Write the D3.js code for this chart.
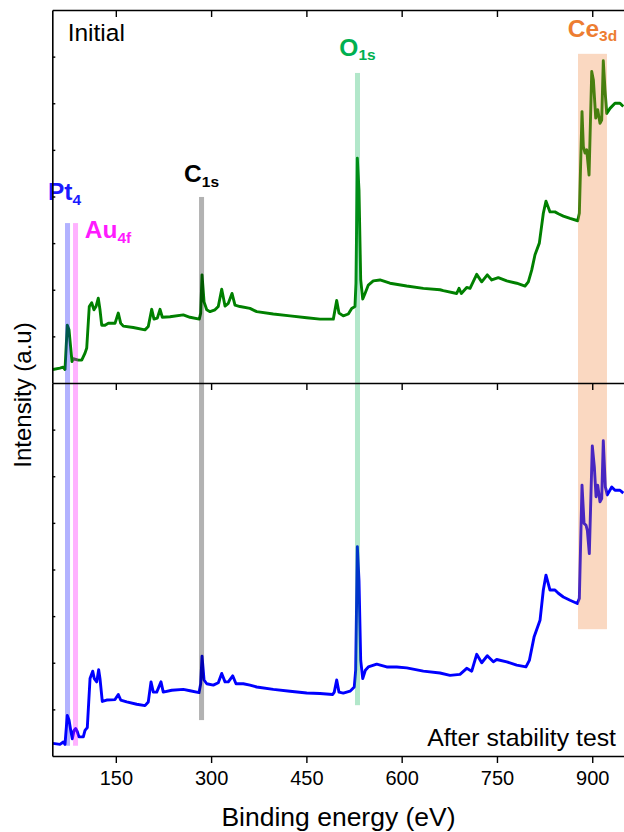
<!DOCTYPE html>
<html>
<head>
<meta charset="utf-8">
<script src="https://cdn.jsdelivr.net/npm/d3@7"></script>
<style>
  html, body { margin: 0; padding: 0; background: #fff; }
  svg { display: block; font-family: "Liberation Sans", Arial, sans-serif; }
</style>
</head>
<body>
<svg id="chart" width="624" height="832"></svg>
<script>
// XPS survey spectra: [binding energy (eV), intensity (a.u.)]
const energyTicks = [150, 300, 450, 600, 750, 900];
const intensityTicks = [10, 20, 30, 40, 50, 60, 70];

const initialSpectrum = [
  [51,2.9],[62,3.2],[67,3.4],[70,2.9],[73.6,12.4],[76.3,11.4],[81,4.6],[83.1,5.2],[90.9,4.9],[96.3,4.9],
  [101.5,6.4],[104.2,7.5],[108.2,16.4],[112,17.2],[115.6,15.7],[118.8,16.4],[122.4,18.2],[125.1,15.7],
  [127.8,12.4],[133,12.4],[138.2,12.8],[148.7,12.8],[153.9,15.0],[157.7,12.8],[161.8,12.2],[177.5,11.9],
  [195.9,11.4],[201.1,12.1],[206.5,15.8],[210.1,13.7],[215.3,13.9],[219.6,15.8],[223.2,14.1],[235.3,14.2],
  [256.2,14.6],[266.8,14.1],[281.4,13.7],[283.6,15.0],[285.7,23.2],[288.9,17.4],[293.1,15.7],[298.3,15.3],
  [306.1,15.7],[311.3,16.4],[316.7,20.1],[321.9,16.5],[327.1,17.1],[332.9,19.2],[337.6,16.7],[345.5,16.4],
  [361.2,16.0],[371.8,15.3],[397.9,14.8],[424.2,14.4],[450.5,14.0],[471.4,13.7],[492.4,13.7],[497.7,17.7],
  [501.3,15.0],[508.1,14.4],[516,14.8],[521.3,16.0],[526.5,16.4],[528.1,21.4],[530.2,48.2],[532.8,41.4],
  [535.5,22.1],[538.7,18.0],[542.3,19.2],[547.5,21.0],[555.3,21.9],[565.9,22.1],[581.6,21.4],[607.9,20.8],
  [634.1,20.3],[660.3,20.0],[665.5,19.8],[686.6,19.2],[690.3,20.3],[693.9,19.2],[702.4,20.5],[707.6,20.3],
  [718.1,23.3],[726,21.7],[734.8,23.2],[741.8,22.1],[752.1,22.6],[765.4,21.9],[781.1,21.4],[794.2,20.8],
  [799.4,21.7],[804.7,24.2],[809.9,27.5],[816.7,30.0],[823,36.4],[827.2,39.0],[833.5,36.7],[841.3,36.7],
  [846.6,36.3],[854.5,35.8],[865,35.3],[877.1,34.8],[879.7,36.4],[883.9,58.2],[886,50.7],[888.7,49.3],
  [891.3,50.0],[895,44.6],[899.2,66.8],[901.8,65.0],[905.5,56.8],[908.6,58.6],[912.2,55.7],[914.9,56.4],
  [917.4,69.1],[920.1,62.8],[922.8,57.8],[928,58.9],[935.8,60.0],[943.7,60.0],[948.9,59.3]
];

const afterSpectrum = [
  [51,2.7],[62.1,2.5],[67.3,3.0],[70,2.5],[73.6,8.7],[76.3,7.7],[79,5.5],[81.5,3.7],[84.2,5.5],[86.8,5.9],
  [89.4,5.2],[92,4.1],[98.8,4.1],[101.5,5.5],[105.1,6.1],[109.4,16.6],[113.6,18.2],[116.1,16.6],[119.9,15.9],
  [123,18.5],[125.1,16.6],[128.7,11.7],[135.6,12.0],[148.7,12.1],[153.9,13.2],[157.7,12.0],[167.1,11.6],
  [182.9,11.1],[195.9,10.8],[201.1,11.6],[205.4,15.9],[209,13.7],[214.4,13.7],[221.1,15.9],[224.7,13.7],
  [238,14.1],[256.2,14.3],[266.8,14.0],[281,13.6],[283.6,15.5],[285.7,21.4],[288.9,16.3],[293.1,15.5],
  [303.5,15.2],[311.3,15.7],[316.7,17.7],[321.9,15.9],[327.1,15.9],[334,17.2],[339.2,15.5],[350.7,15.5],
  [361.2,15.2],[371.8,14.8],[397.9,14.3],[424.2,13.9],[450.5,13.5],[471.4,13.4],[491.4,13.2],[493.9,13.7],
  [497.7,16.3],[501.3,13.7],[508.1,13.5],[518.7,13.9],[525.4,14.8],[527.6,18.4],[530.2,44.9],[532.8,37.7],
  [535.5,20.5],[538.7,16.6],[542.8,18.4],[547.5,19.1],[560.7,19.7],[576.4,19.1],[592.2,19.1],[607.9,18.9],
  [634.1,18.2],[660.3,17.8],[676.1,17.3],[691.8,17.5],[702.4,18.8],[710.3,18.2],[718.1,21.8],[726,20.0],
  [734.8,21.5],[744.3,20.2],[749.6,20.7],[765.4,20.2],[781.1,19.5],[795.7,19.1],[801,20.5],[808.4,25.5],
  [817.8,29.1],[823,35.6],[827.2,38.8],[833.5,35.6],[841.3,35.6],[846.6,34.9],[854.5,34.1],[865,33.4],
  [876.5,32.7],[879.7,33.8],[883.9,58.1],[887.1,49.9],[890.2,49.5],[892.3,48.4],[895.4,43.4],[900.1,66.5],
  [903.3,62.0],[906,55.6],[908.6,58.1],[912.2,54.5],[914.9,55.2],[917.4,67.6],[920.6,57.7],[923.7,56.0],
  [930.7,57.7],[935.8,57.0],[943.7,57.0],[948.9,56.4]
];

// Core-level marker bands
const bandElements   = ["Pt", "Au", "C", "O", "Ce"];
const bandSubscripts = ["4", "4f", "1s", "1s", "3d"];
const bandStart      = [70.0, 82.6, 281.0, 526.5, 877.6];
const bandEnd        = [77.9, 90.5, 288.9, 534.4, 923.2];
const bandTopLevel    = [34.3, 34.3, 39.9, 66.5, 70.6];  // upper panel units
const bandBottomLevel = [2.2, 2.2, 7.7, 10.9, 27.2];     // lower panel units

const panelTitles = ["Initial", "After stability test"];

// ---- styling / layout ----
const bandColors  = ["#0000ff", "#ff00ff", "#000000", "#00b050", "#ed7d31"];
const labelColors = ["#1a1aff", "#ff1aff", "#000000", "#00b050", "#ed7d31"];
const labelDx = [-3, 32.5, 0, 0, 0];
const labelDy = [-23, 15, -14.5, -17, -17];
const lineColors = ["#008000", "#0000ff"];

const plotLeft = 52.3, plotRight = 624, plotTop = 10, panelH = 373;
const font = "'Liberation Sans', Arial, sans-serif";

const svg = d3.select("#chart");

const x = d3.scaleLinear().domain([50, 950]).range([plotLeft, plotRight]);
const y = d3.scaleLinear().domain([0, 80]).range([panelH, 0]);

const panels = [
  { data: initialSpectrum, y0: plotTop },
  { data: afterSpectrum, y0: plotTop + panelH }
];

svg.append("defs").append("clipPath").attr("id", "plotClip")
  .append("rect").attr("x", plotLeft).attr("y", plotTop)
  .attr("width", plotRight - plotLeft).attr("height", 2 * panelH);

const line = d3.line().x(d => x(d[0])).y(d => y(d[1])).curve(d3.curveLinear);

const plot = svg.append("g").attr("clip-path", "url(#plotClip)");

panels.forEach((p, i) => {
  plot.append("path")
    .datum(p.data)
    .attr("transform", `translate(0,${p.y0})`)
    .attr("fill", "none")
    .attr("stroke", lineColors[i])
    .attr("stroke-width", 2.9)
    .attr("stroke-linejoin", "round")
    .attr("d", line);
});

// translucent bands across both panels
const bandIdx = d3.range(bandElements.length);
plot.selectAll("rect.band").data(bandIdx).join("rect")
  .attr("class", "band")
  .attr("x", i => x(bandStart[i]))
  .attr("width", i => x(bandEnd[i]) - x(bandStart[i]))
  .attr("y", i => plotTop + y(bandTopLevel[i]))
  .attr("height", i => (plotTop + panelH + y(bandBottomLevel[i])) - (plotTop + y(bandTopLevel[i])))
  .attr("fill", i => bandColors[i])
  .attr("fill-opacity", 0.3);

// band labels
bandIdx.forEach(i => {
  const cx = (x(bandStart[i]) + x(bandEnd[i])) / 2 + labelDx[i];
  const by = plotTop + y(bandTopLevel[i]) + labelDy[i];
  const t = svg.append("text")
    .attr("x", cx).attr("y", by)
    .attr("text-anchor", "middle")
    .attr("font-family", font)
    .attr("font-weight", "bold")
    .attr("font-size", 24.5)
    .attr("fill", labelColors[i]);
  t.append("tspan").text(bandElements[i]);
  t.append("tspan").attr("font-size", 15.5).attr("dy", 4.5).text(bandSubscripts[i]);
});

// axes frame
const styleAxis = g => {
  g.select(".domain").attr("stroke", "#000").attr("stroke-width", 1.6);
  g.selectAll(".tick line").attr("stroke", "#000").attr("stroke-width", 1.4);
};

[plotTop, plotTop + panelH].forEach(yy => {
  svg.append("g").attr("transform", `translate(0,${yy})`)
    .call(d3.axisBottom(x).tickValues(energyTicks).tickSizeInner(7).tickSizeOuter(0).tickFormat(""))
    .call(styleAxis);
});

const bottomAxis = svg.append("g").attr("transform", `translate(0,${plotTop + 2 * panelH})`)
  .call(d3.axisBottom(x).tickValues(energyTicks).tickSizeInner(7).tickSizeOuter(0).tickPadding(8))
  .call(styleAxis);
bottomAxis.selectAll(".tick text")
  .attr("font-family", font).attr("font-size", 20).attr("fill", "#000");

panels.forEach(p => {
  svg.append("g").attr("transform", `translate(${plotLeft},${p.y0})`)
    .call(d3.axisLeft(y).tickValues(intensityTicks).tickSizeInner(-3).tickSizeOuter(0).tickFormat(""))
    .call(styleAxis);
});

// titles
svg.append("text")
  .attr("x", 67.7).attr("y", 41)
  .attr("font-family", font).attr("font-size", 24.5).attr("fill", "#000")
  .text(panelTitles[0]);
svg.append("text")
  .attr("x", 616).attr("y", 746).attr("text-anchor", "end")
  .attr("font-family", font).attr("font-size", 24.8).attr("fill", "#000")
  .text(panelTitles[1]);

svg.append("text")
  .attr("transform", "translate(31,395) rotate(-90)")
  .attr("text-anchor", "middle")
  .attr("font-family", font).attr("font-size", 24).attr("fill", "#000")
  .text("Intensity (a.u)");

svg.append("text")
  .attr("x", 338.5).attr("y", 826).attr("text-anchor", "middle")
  .attr("font-family", font).attr("font-size", 26.5).attr("fill", "#000")
  .text("Binding energy (eV)");
</script>
</body>
</html>
